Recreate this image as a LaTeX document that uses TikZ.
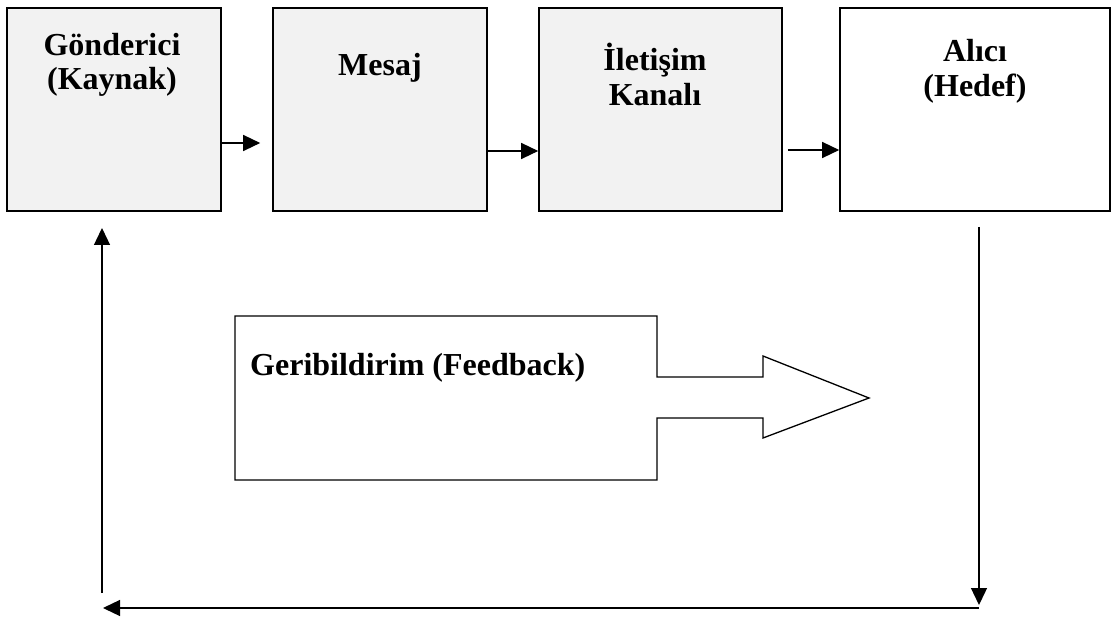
\documentclass[tikz,border=0pt]{standalone}
\usepackage{fontspec}
\setmainfont{Liberation Serif}
\usetikzlibrary{arrows.meta,calc}
\definecolor{boxgray}{HTML}{F2F2F2}
\tikzset{
  box/.style={draw=black, line width=1.6pt, rectangle, inner sep=0pt, minimum height=203pt},
  graybox/.style={box, fill=boxgray},
  lbl/.style={anchor=base, inner sep=0pt, font=\fontsize{32}{35}\selectfont\bfseries},
  arr/.style={line width=1.3pt, -{Triangle[length=17pt 0 0,width=16pt 0 0]}},
}
\begin{document}
\begin{tikzpicture}[x=1pt,y=-1pt]
\useasboundingbox (0,0) rectangle (1113,617);
% boxes
\node[graybox, minimum width=214pt] (g) at (114,109.5) {};
\node[graybox, minimum width=214pt] (m) at (380,109.5) {};
\node[graybox, minimum width=243pt] (k) at (660.5,109.5) {};
\node[box, fill=white, minimum width=270pt] (h) at (975,109.5) {};
% labels
\node[lbl] (g1) at (112,56) {Gönderici};
\node[lbl] (g2) at (112,90) {(Kaynak)};
\node[lbl] (m1) at (380,76) {Mesaj};
\node[lbl] (k1) at (655,71) {İletişim};
\node[lbl] (k2) at (655,106) {Kanalı};
\node[lbl] (h1) at (975,62) {Alıcı};
\node[lbl] (h2) at (975,97) {(Hedef)};
% forward arrows
\draw[arr] (g.east |- 0,143) -- ([xshift=-12pt]m.west |- 0,143);
\draw[arr] (m.east |- 0,151) -- (k.west |- 0,151);
\draw[arr] ([xshift=5pt]k.east |- 0,150) -- (h.west |- 0,150);
% feedback loop
\coordinate (r1) at (979,227);
\coordinate (r2) at (979,605);
\coordinate (b1) at (979,608);
\coordinate (b2) at (103,608);
\coordinate (l1) at (102,593);
\coordinate (l2) at (102,228);
\draw[arr] (r1) -- (r2);
\draw[arr] (b1) -- (b2);
\draw[arr] (l1) -- (l2);
% big block arrow
\draw[line width=1.3pt, fill=white, line join=miter]
  (235,316) -- (657,316) -- (657,377) -- (763,377) -- (763,356) -- (869,398)
  -- (763,438) -- (763,418) -- (657,418) -- (657,480) -- (235,480) -- cycle;
\node[lbl, anchor=base west] (fb) at (250,375) {Geribildirim (Feedback)};
\end{tikzpicture}
\end{document}
